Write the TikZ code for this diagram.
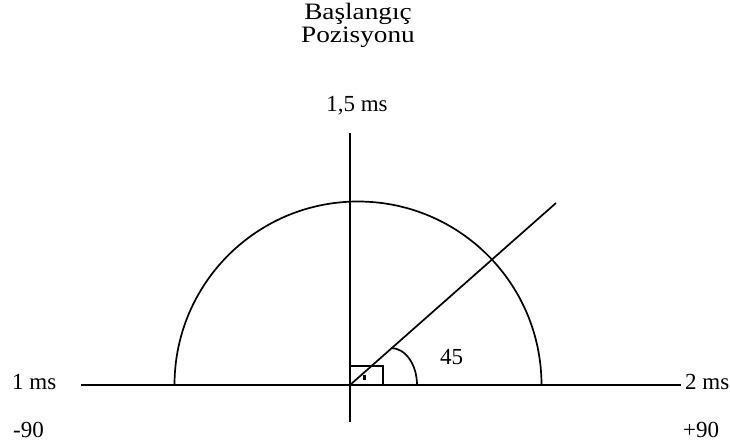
\documentclass[tikz,border=0pt]{standalone}
\usepackage{graphicx}
\usepackage{fontspec}
\setmainfont{Liberation Serif}
\newcommand{\widetext}[1]{\scalebox{1.16}[1]{#1}}
\begin{document}
\begin{tikzpicture}[x=1pt,y=1pt,
  lbl/.style={inner sep=0pt,font=\fontsize{23}{25}\selectfont},
  big/.style={inner sep=0pt,font=\fontsize{23.5}{25}\selectfont},
  ln/.style={line width=1.7pt,black}]
\useasboundingbox (0,0) rectangle (730,445);
% coordinates
\coordinate (O) at (350,60);
\coordinate (hL) at (81,60);
\coordinate (hR) at (681,60);
\coordinate (vT) at (350,312);
\coordinate (vB) at (350,23);
\coordinate (dE) at (556,242);
\coordinate (aL) at (174.5,60);
\coordinate (sA) at (391,97);
\coordinate (sB) at (417,60);
\coordinate (rT) at (383,79);
% lines
\draw[ln] (hL) -- (hR);
\draw[ln] (vT) -- (vB);
\draw[ln] (O) -- (dE);
\draw[ln] (aL) arc[start angle=180,end angle=0,radius=183.5pt];
\draw[ln] (sA) .. controls (405.4,97) and (417,80.4) .. (sB);
\draw[ln] (O) rectangle (rT);
\fill (363,65) rectangle (365.5,70.5);
% labels
\node[big,anchor=base] (t1) at (358,425) {\widetext{Başlangıç}};
\node[big,anchor=base] (t2) at (358,402) {\widetext{Pozisyonu}};
\node[lbl,anchor=base] (t3) at (357,333) {1,5 ms};
\node[lbl,anchor=base west] (t4) at (12,56) {1 ms};
\node[lbl,anchor=base west] (t5) at (685,56) {2 ms};
\node[lbl,anchor=base west] (t6) at (13,8) {-90};
\node[lbl,anchor=base west] (t7) at (683,8) {+90};
\node[lbl,anchor=base west] (t8) at (440,81) {45};
\end{tikzpicture}
\end{document}
